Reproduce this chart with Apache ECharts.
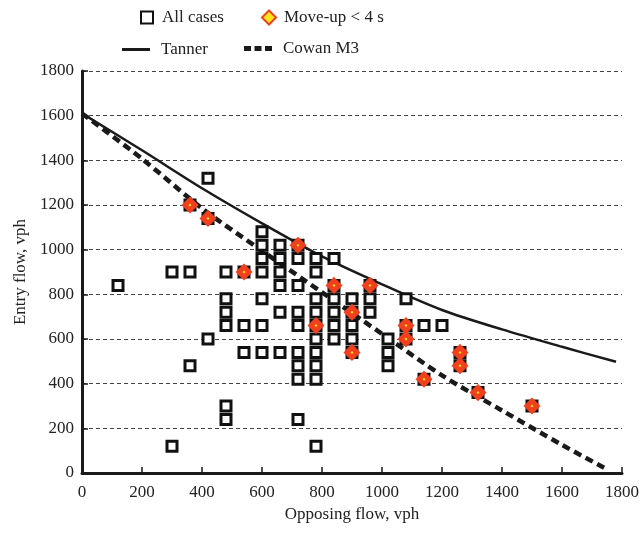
<!DOCTYPE html>
<html>
<head>
<meta charset="utf-8">
<script src="https://cdn.jsdelivr.net/npm/echarts@6/dist/echarts.min.js"></script>
<style>
html,body{margin:0;padding:0;background:#fff;}
#chart{width:642px;height:539px;}
</style>
</head>
<body>
<div id="chart"></div>
<script>
// Observed cases [opposing flow, entry flow] (vph)
var allCases = [
  [420,1320],[360,1200],[420,1140],[600,1080],
  [600,1020],[660,1020],[720,1020],
  [600,960],[660,960],[720,960],[780,960],[840,960],
  [300,900],[360,900],[480,900],[540,900],[600,900],[660,900],[780,900],
  [120,840],[660,840],[720,840],[840,840],[960,840],
  [480,780],[600,780],[780,780],[840,780],[900,780],[960,780],[1080,780],
  [480,720],[660,720],[720,720],[780,720],[840,720],[900,720],[960,720],
  [480,660],[540,660],[600,660],[720,660],[780,660],[840,660],[900,660],[1080,660],[1140,660],[1200,660],
  [420,600],[780,600],[840,600],[900,600],[1020,600],[1080,600],
  [540,540],[600,540],[660,540],[720,540],[780,540],[900,540],[1020,540],[1260,540],
  [360,480],[720,480],[780,480],[1020,480],[1260,480],
  [720,420],[780,420],[1140,420],
  [1320,360],
  [480,300],[1500,300],
  [480,240],[720,240],
  [300,120],[780,120]
];
// Cases with move-up time < 4 s
var moveUpCases = [
  [360,1200],[420,1140],[720,1020],[540,900],[840,840],[960,840],
  [900,720],[780,660],[1080,660],[1080,600],[900,540],[1260,540],
  [1260,480],[1140,420],[1320,360],[1500,300]
];
// Model curves
var tannerX = [0,200,400,600,800,1000,1200,1400,1600,1780];
var tannerY = [1610,1445,1275,1118,970,845,730,643,565,498];
var cowanX = [0,200,400,600,800,1000,1200,1400,1600,1745];
var cowanY = [1610,1407,1185,995,809,623,437,280,126,20];
var axisTicks = [0,200,400,600,800,1000,1200,1400,1600,1800];

function pairs(xs, ys){ return xs.map(function(x,i){ return [x, ys[i]]; }); }

var FONT = '"Liberation Serif","Times New Roman",serif';
var chart = echarts.init(document.getElementById('chart'), null, {renderer:'canvas'});

function legendAt(name, left, top, w, h, icon, gap){
  var l = {
    data:[name], left:left, top:top, itemWidth:w, itemHeight:h,
    orient:'horizontal', padding:0,
    textStyle:{fontFamily:FONT, fontSize:17, color:'#222', padding:[0,0,0,gap]}
  };
  if (icon) l.icon = icon;
  return l;
}

chart.setOption({
  animation:false,
  backgroundColor:'#fff',
  legend:[
    legendAt('All cases', 140, 9, 12, 12, null, 4),
    legendAt('Move-up < 4 s', 261, 9, 14, 14, null, 3),
    legendAt('Tanner', 122, 41, 28, 3, 'rect', 6),
    legendAt('Cowan M3', 244, 40, 28, 5, 'path://M0,0H7V5H0Z M10.5,0H17.5V5H10.5Z M21,0H28V5H21Z', 6)
  ],
  grid:{left:82, right:16, top:71, bottom:66, containLabel:false},
  xAxis:{
    type:'value', min:axisTicks[0], max:axisTicks[axisTicks.length-1], interval:200,
    name:'Opposing flow, vph', nameLocation:'middle', nameGap:31,
    nameTextStyle:{fontFamily:FONT, fontSize:17, color:'#222'},
    axisLine:{show:true, onZero:false, lineStyle:{color:'#1a1a1a', width:3}},
    axisTick:{show:true, inside:true, length:6, lineStyle:{color:'#1a1a1a', width:1.5}},
    axisLabel:{fontFamily:FONT, fontSize:17, color:'#222', margin:11, formatter:function(v){return String(v);}},
    splitLine:{show:false}
  },
  yAxis:{
    type:'value', min:axisTicks[0], max:axisTicks[axisTicks.length-1], interval:200,
    name:'Entry flow, vph', nameLocation:'middle', nameGap:50,
    nameTextStyle:{fontFamily:FONT, fontSize:17, color:'#222'},
    axisLine:{show:true, onZero:false, lineStyle:{color:'#1a1a1a', width:3}},
    axisTick:{show:true, inside:true, length:6, lineStyle:{color:'#1a1a1a', width:1.5}},
    axisLabel:{fontFamily:FONT, fontSize:17, color:'#222', margin:8, formatter:function(v){return String(v);}},
    splitLine:{show:true, lineStyle:{color:'#444', width:1, type:[4,3]}}
  },
  series:[
    {
      name:'Tanner', type:'line', data:pairs(tannerX, tannerY), smooth:0.3,
      symbol:'none', showSymbol:false, z:3,
      lineStyle:{color:'#1a1a1a', width:2.5, type:'solid'},
      itemStyle:{color:'#1a1a1a'}
    },
    {
      name:'Cowan M3', type:'line', data:pairs(cowanX, cowanY), smooth:0.3,
      symbol:'none', showSymbol:false, z:3,
      lineStyle:{color:'#1a1a1a', width:4.5, type:[8,5]},
      itemStyle:{color:'#1a1a1a'}
    },
    {
      name:'All cases', type:'scatter', data:allCases, symbol:'rect', symbolSize:10, z:4,
      itemStyle:{color:'#ffffff', borderColor:'#111', borderWidth:3, opacity:1}
    },
    {
      name:'Move-up < 4 s', type:'scatter', data:moveUpCases, symbol:'diamond', symbolSize:10, z:5,
      itemStyle:{color:'#ffe619', borderColor:'#f0401e', borderWidth:5, opacity:1}
    }
  ]
});
</script>
</body>
</html>
